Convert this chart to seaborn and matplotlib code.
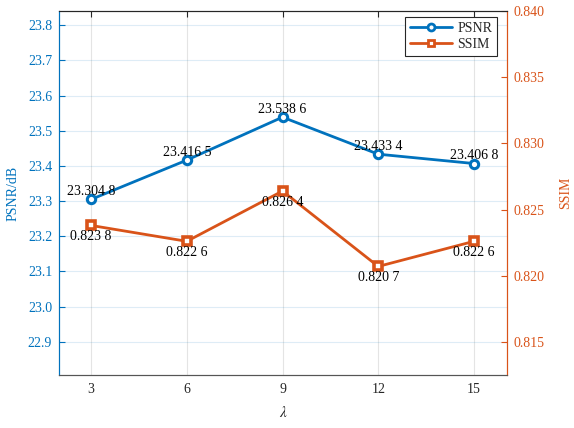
import numpy as np
import pandas as pd
import seaborn as sns
import matplotlib
matplotlib.use("Agg")
import matplotlib.pyplot as plt
from matplotlib.lines import Line2D

# values
lam = [3, 6, 9, 12, 15]
psnr = [23.3048, 23.4165, 23.5386, 23.4334, 23.4068]
ssim = [0.8238, 0.8226, 0.8264, 0.8207, 0.8226]
psnr_txt = ["23.304 8", "23.416 5", "23.538 6", "23.433 4", "23.406 8"]
ssim_txt = ["0.823 8", "0.822 6", "0.826 4", "0.820 7", "0.822 6"]
psnr_ticks = [22.9, 23.0, 23.1, 23.2, 23.3, 23.4, 23.5, 23.6, 23.7, 23.8]
ssim_ticks = [0.815, 0.820, 0.825, 0.830, 0.835, 0.840]

blue = "#0072BD"
orange = "#D95319"

sns.set_style("white")
plt.rcParams['font.family'] = ['Liberation Serif', 'DejaVu Serif']
plt.rcParams['mathtext.fontset'] = 'stix'

df = pd.DataFrame({"lam": lam, "psnr": psnr, "ssim": ssim})

fig = plt.figure(figsize=(5.74, 4.28), dpi=100)
ax = fig.add_axes([0.103, 0.124, 0.780, 0.850])
ax2 = ax.twinx()

sns.lineplot(data=df, x="lam", y="psnr", ax=ax, color=blue, lw=2.0,
             marker="o", markersize=6, markerfacecolor="white",
             markeredgecolor=blue, markeredgewidth=2.2)
sns.lineplot(data=df, x="lam", y="ssim", ax=ax2, color=orange, lw=2.0,
             marker="s", markersize=6, markerfacecolor="white",
             markeredgecolor=orange, markeredgewidth=2.6)

# data labels
for x, y, t in zip(lam, psnr, psnr_txt):
    ax.annotate(t, (x, y), xytext=(0, 5.8), textcoords="offset points",
                ha="center", va="center", fontsize=10, color="black")
for x, y, t in zip(lam, ssim, ssim_txt):
    ax2.annotate(t, (x, y), xytext=(0, -8), textcoords="offset points",
                 ha="center", va="center", fontsize=10, color="black")

ax.set_xlim(2, 16.03)
ax.set_ylim(22.806, 23.84)
ax2.set_ylim(0.8125, 0.840)
ax.set_xticks(lam)
ax.set_yticks(psnr_ticks)
ax.set_yticklabels([f"{v:.1f}" for v in psnr_ticks])
ax2.set_yticks(ssim_ticks)
ax2.set_yticklabels([f"{v:.3f}" for v in ssim_ticks])

# grid like matlab
ax.grid(True, axis="y", color=blue, alpha=0.13, lw=0.8)
ax.grid(True, axis="x", color="#262626", alpha=0.12, lw=0.8)
ax.set_axisbelow(True)

ax.set_xlabel(r"$\lambda$", fontsize=11, labelpad=6)
ax.set_ylabel("PSNR/dB", fontsize=10, color=blue, labelpad=6)
ax2.set_ylabel("SSIM", fontsize=10, color=orange, labelpad=10, rotation=90)

ax.tick_params(axis="x", direction="in", length=4, labelsize=10, colors="#262626",
               top=True, pad=6)
ax.tick_params(axis="y", direction="in", length=4, labelsize=10, colors=blue, pad=5)
ax2.tick_params(axis="y", direction="in", length=4, labelsize=10, colors=orange, pad=5)

for a in (ax, ax2):
    for s in a.spines.values():
        s.set_linewidth(0.8)
    a.spines["top"].set_color("#262626")
    a.spines["bottom"].set_color("#555555")
ax.spines["left"].set_color(blue)
ax2.spines["left"].set_color(blue)
ax.spines["right"].set_color(orange)
ax2.spines["right"].set_color(orange)

handles = [Line2D([], [], color=blue, lw=2.0, marker="o", markersize=5,
                  markerfacecolor="white", markeredgewidth=2),
           Line2D([], [], color=orange, lw=2.0, marker="s", markersize=5,
                  markerfacecolor="white", markeredgewidth=2)]
leg = ax2.legend(handles, ["PSNR", "SSIM"], loc="upper right",
                 bbox_to_anchor=(0.978, 0.9835), borderaxespad=0, fontsize=10,
                 handlelength=3.0, frameon=True, fancybox=False,
                 edgecolor="#262626", framealpha=1, borderpad=0.35,
                 labelspacing=0.2, handletextpad=0.4)
leg.get_frame().set_linewidth(0.8)

fig.savefig("out.png", dpi=100)
